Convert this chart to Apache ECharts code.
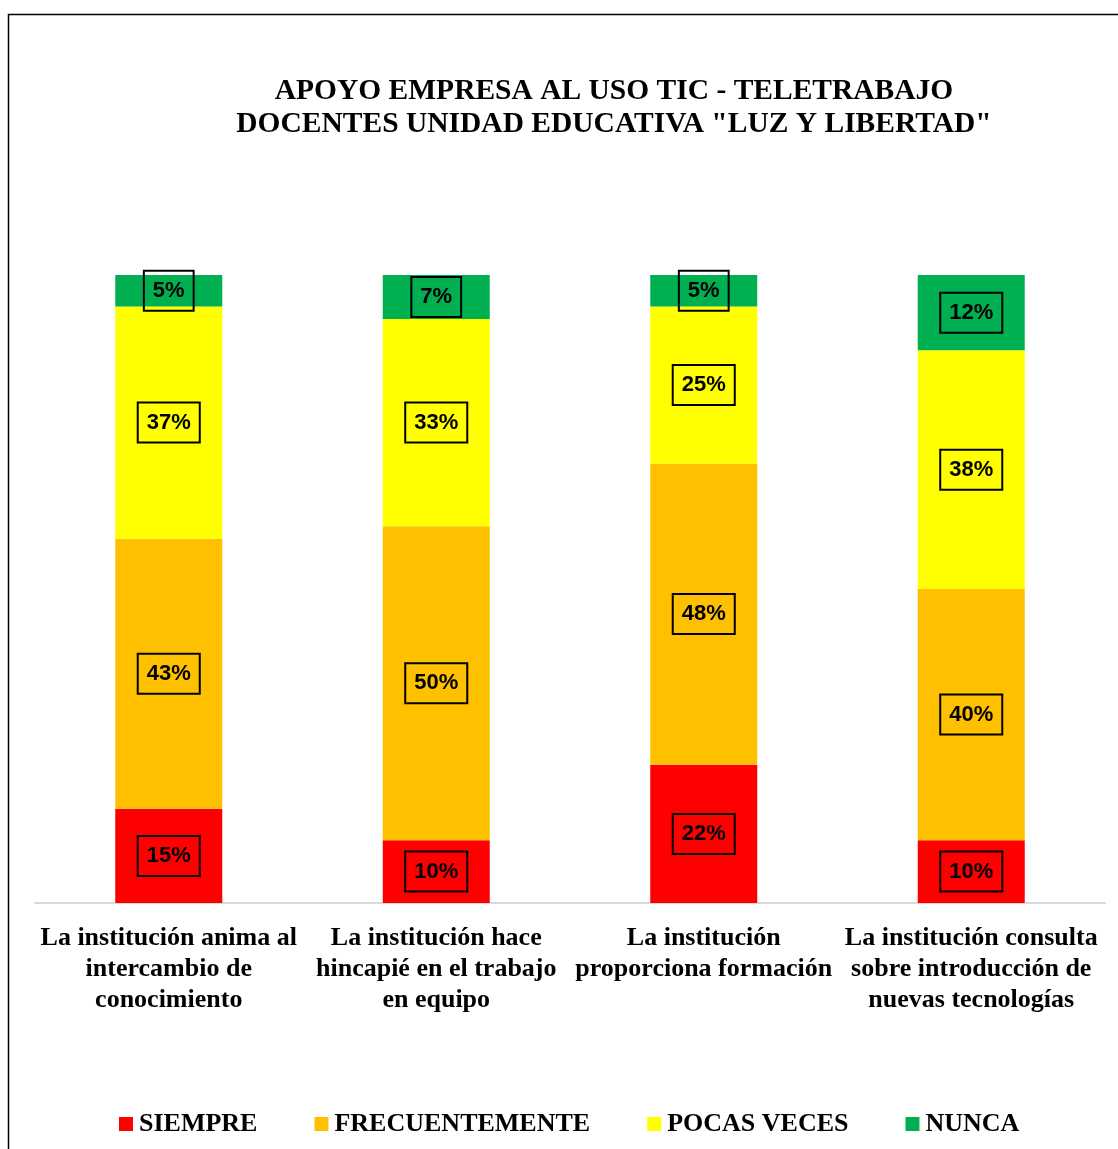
<!DOCTYPE html>
<html>
<head>
<meta charset="utf-8">
<script src="https://cdn.jsdelivr.net/npm/echarts@6/dist/echarts.min.js"></script>
<style>
  html, body { margin: 0; padding: 0; background: #fff; }
  #chart { width: 1118px; height: 1149px; }
</style>
</head>
<body>
<div id="chart"></div>
<script>
  // datos
  var categories = [
    'La institución anima al\nintercambio de\nconocimiento',
    'La institución hace\nhincapié en el trabajo\nen equipo',
    'La institución\nproporciona formación',
    'La institución consulta\nsobre introducción de\nnuevas tecnologías'
  ];
  var siempre = [15, 10, 22, 10];
  var frecuentemente = [43, 50, 48, 40];
  var pocasVeces = [37, 33, 25, 38];
  var nunca = [5, 7, 5, 12];

  var serif = '"Liberation Serif", "Times New Roman", serif';
  var sans = '"Liberation Sans", Arial, sans-serif';

  function makeSeries(name, data, color) {
    return {
      name: name,
      type: 'bar',
      stack: 'total',
      barWidth: 107,
      data: data,
      itemStyle: { color: color },
      label: {
        show: true,
        position: 'inside',
        formatter: '{c}%',
        fontFamily: sans,
        fontWeight: 'bold',
        fontSize: 22,
        color: '#000',
        borderColor: '#000',
        borderWidth: 2,
        padding: [10, 9, 8, 9]
      }
    };
  }

  var chart = echarts.init(document.getElementById('chart'));
  var option = {
    animation: false,
    title: {
      text: 'APOYO EMPRESA AL USO TIC - TELETRABAJO\nDOCENTES UNIDAD EDUCATIVA "LUZ Y LIBERTAD"',
      left: 609,
      textAlign: 'center',
      top: 70,
      textStyle: {
        fontFamily: serif,
        fontWeight: 'bold',
        fontSize: 29.5,
        lineHeight: 33,
        color: '#000'
      }
    },
    graphic: [{
      type: 'rect',
      shape: { x: 8.5, y: 14.5, width: 1200, height: 1200 },
      style: { fill: 'none', stroke: '#000', lineWidth: 1.5 }
    }],
    legend: {
      data: ['SIEMPRE', 'FRECUENTEMENTE', 'POCAS VECES', 'NUNCA'],
      left: 114,
      top: 1106,
      icon: 'rect',
      itemWidth: 14,
      itemHeight: 14,
      itemGap: 57,
      textStyle: {
        fontFamily: serif,
        fontWeight: 'bold',
        fontSize: 26,
        color: '#000',
        padding: [0, 0, 0, 1]
      }
    },
    grid: { left: 35, right: 13, top: 275, bottom: 246 },
    xAxis: {
      type: 'category',
      data: categories,
      axisLine: { lineStyle: { color: '#d9d9d9', width: 2 } },
      axisTick: { show: false },
      axisLabel: {
        interval: 0,
        margin: 20,
        fontFamily: serif,
        fontWeight: 'bold',
        fontSize: 26,
        lineHeight: 31,
        color: '#000'
      }
    },
    yAxis: {
      type: 'value',
      min: 0,
      max: 100,
      show: false
    },
    series: [
      makeSeries('SIEMPRE', siempre, '#ff0000'),
      makeSeries('FRECUENTEMENTE', frecuentemente, '#ffc000'),
      makeSeries('POCAS VECES', pocasVeces, '#ffff00'),
      makeSeries('NUNCA', nunca, '#00b050')
    ]
  };
  chart.setOption(option);
</script>
</body>
</html>
